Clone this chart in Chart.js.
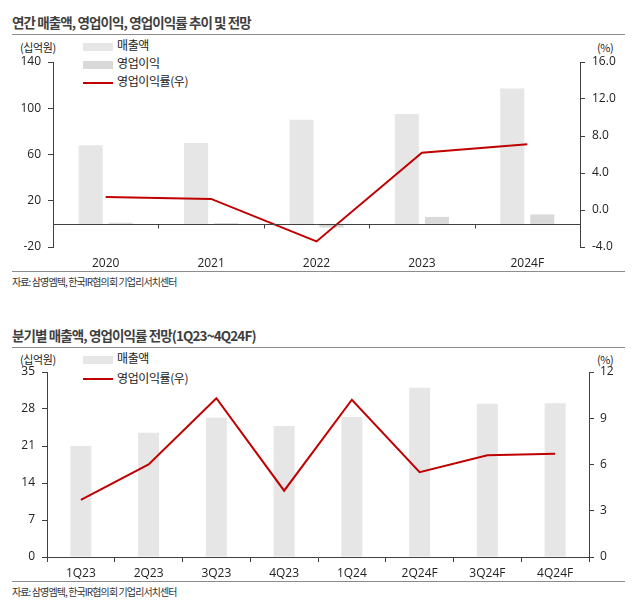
<!DOCTYPE html>
<html>
<head>
<meta charset="utf-8">
<script src="https://cdn.jsdelivr.net/npm/chart.js@4"></script>
<style>
  body { margin: 0; background: #fff; font-family: 'Noto Sans CJK KR', sans-serif; }
  #page { position: relative; width: 637px; height: 611px; overflow: hidden; }
  .title { position: absolute; left: 12px; font-size: 13.5px; font-weight: bold; color: #404040; letter-spacing: -0.9px; white-space: nowrap; }
  .rule { position: absolute; left: 12px; width: 613px; height: 0; border-top: 1.5px solid #8c8c8c; }
  .source { position: absolute; left: 12px; font-size: 10px; color: #333; letter-spacing: -0.9px; white-space: nowrap; }
  .unit { position: absolute; font-size: 11px; color: #222; letter-spacing: -0.4px; white-space: nowrap; }
  .legend { position: absolute; left: 83px; font-size: 12px; color: #222; letter-spacing: -0.4px; }
  .legend div { height: 18px; line-height: 18px; white-space: nowrap; }
  #legend2 div { height: 19.5px; line-height: 19.5px; }
  .legend span { display: inline-block; width: 30px; vertical-align: middle; margin-right: 4px; }
  canvas { position: absolute; left: 0; }
</style>
</head>
<body>
<div id="page">
  <div class="title" style="top:12px">연간 매출액, 영업이익, 영업이익률 추이 및 전망</div>
  <div class="rule" style="top:34px"></div>
  <div class="unit" style="left:20px; top:39px">(십억원)</div>
  <div class="unit" style="left:597px; top:39px">(%)</div>
  <div class="legend" id="legend1" style="top:36px"></div>
  <canvas id="annualChart" width="637" height="234" style="top:36px"></canvas>
  <div class="rule" style="top:271px"></div>
  <div class="source" style="top:274px">자료: 삼영엠텍, 한국IR협의회 기업리서치센터</div>

  <div class="title" style="top:325px">분기별 매출액, 영업이익률 전망(1Q23~4Q24F)</div>
  <div class="rule" style="top:347px"></div>
  <div class="unit" style="left:20px; top:351px">(십억원)</div>
  <div class="unit" style="left:597px; top:351px">(%)</div>
  <div class="legend" id="legend2" style="top:348px"></div>
  <canvas id="quarterChart" width="637" height="230" style="top:350px"></canvas>
  <div class="rule" style="top:581px"></div>
  <div class="source" style="top:584px">자료: 삼영엠텍, 한국IR협의회 기업리서치센터</div>
</div>

<script>
// annual data (십억원, %)
const years = ["2020", "2021", "2022", "2023", "2024F"];
const revenue = [68, 70, 90, 95, 117];
const opProfit = [1, 0.8, -3.1, 6, 8.2];
const opMargin = [1.4, 1.2, -3.4, 6.2, 7.1];

// quarterly data
const quarters = ["1Q23", "2Q23", "3Q23", "4Q23", "1Q24", "2Q24F", "3Q24F", "4Q24F"];
const qRevenue = [21.0, 23.5, 26.4, 24.8, 26.5, 32.0, 29.0, 29.1];
const qMargin = [3.7, 6.0, 10.3, 4.3, 10.2, 5.5, 6.6, 6.7];

const REV_COLOR = "#e6e6e6";
const OP_COLOR = "#d9d9d9";
const LINE_COLOR = "#c00000";
const AXIS_COLOR = "#404040";
const TICK_FONT = { family: "'Open Sans', 'Noto Sans CJK KR', sans-serif", size: 12 };

Chart.defaults.animation = false;
Chart.defaults.color = "#222";

function buildLegend(id, items) {
  const box = document.getElementById(id);
  items.forEach(it => {
    const row = document.createElement("div");
    const sw = document.createElement("span");
    sw.style.height = it.line ? "2px" : "8px";
    sw.style.background = it.color;
    row.appendChild(sw);
    row.appendChild(document.createTextNode(it.label));
    box.appendChild(row);
  });
}

function yAxis(side, min, max, step, width, pad, fmt) {
  return {
    position: side,
    min: min,
    max: max,
    ticks: {
      stepSize: step,
      padding: pad,
      font: TICK_FONT,
      color: "#222",
      callback: fmt || (v => v)
    },
    grid: { drawOnChartArea: false, color: AXIS_COLOR, tickLength: 5 },
    border: { color: AXIS_COLOR },
    afterFit: s => { s.width = width; }
  };
}

// zero line with category tick marks for annual chart
const zeroAxis = {
  id: "zeroAxis",
  afterDatasetsDraw(chart) {
    const x = chart.scales.x, y = chart.scales.y;
    const y0 = Math.round(y.getPixelForValue(0)) + 0.5;
    const ctx = chart.ctx;
    ctx.save();
    ctx.strokeStyle = AXIS_COLOR;
    ctx.lineWidth = 1;
    ctx.beginPath();
    ctx.moveTo(chart.chartArea.left, y0);
    ctx.lineTo(chart.chartArea.right, y0);
    for (let i = 1; i < years.length; i++) {
      const bx = Math.round((x.getPixelForValue(i - 1) + x.getPixelForValue(i)) / 2) + 0.5;
      ctx.moveTo(bx, y0);
      ctx.lineTo(bx, y0 + 4);
    }
    ctx.stroke();
    ctx.restore();
  }
};

buildLegend("legend1", [
  { label: "매출액", color: REV_COLOR },
  { label: "영업이익", color: OP_COLOR },
  { label: "영업이익률(우)", color: LINE_COLOR, line: true }
]);

new Chart(document.getElementById("annualChart"), {
  type: "bar",
  data: {
    labels: years,
    datasets: [
      {
        type: "line",
        label: "영업이익률(우)",
        data: opMargin,
        yAxisID: "y1",
        borderColor: LINE_COLOR,
        borderWidth: 2,
        pointRadius: 0,
        fill: false
      },
      {
        label: "매출액",
        data: revenue,
        backgroundColor: REV_COLOR,
        categoryPercentage: 0.57,
        barPercentage: 0.8
      },
      {
        label: "영업이익",
        data: opProfit,
        backgroundColor: OP_COLOR,
        categoryPercentage: 0.57,
        barPercentage: 0.8
      }
    ]
  },
  options: {
    responsive: false,
    layout: { padding: { top: 26, left: 0, right: 0, bottom: 0 } },
    plugins: { legend: { display: false }, tooltip: { enabled: false } },
    scales: {
      x: {
        grid: { display: false, drawTicks: false },
        border: { display: false },
        ticks: { font: TICK_FONT, color: "#222", padding: 9 },
        afterFit: s => { s.height = 23; }
      },
      y: yAxis("left", -20, 140, 40, 53, 7),
      y1: yAxis("right", -4, 16, 4, 57, 7, v => v.toFixed(1))
    }
  },
  plugins: [zeroAxis]
});

buildLegend("legend2", [
  { label: "매출액", color: REV_COLOR },
  { label: "영업이익률(우)", color: LINE_COLOR, line: true }
]);

new Chart(document.getElementById("quarterChart"), {
  type: "bar",
  data: {
    labels: quarters,
    datasets: [
      {
        type: "line",
        label: "영업이익률(우)",
        data: qMargin,
        yAxisID: "y1",
        borderColor: LINE_COLOR,
        borderWidth: 2,
        pointRadius: 0,
        fill: false
      },
      {
        label: "매출액",
        data: qRevenue,
        backgroundColor: REV_COLOR,
        categoryPercentage: 1,
        barPercentage: 0.31
      }
    ]
  },
  options: {
    responsive: false,
    layout: { padding: { top: 22, left: 0, right: 0, bottom: 0 } },
    plugins: { legend: { display: false }, tooltip: { enabled: false } },
    scales: {
      x: {
        grid: { drawOnChartArea: false, color: AXIS_COLOR, tickLength: 5, offset: true },
        border: { color: AXIS_COLOR },
        ticks: { font: TICK_FONT, color: "#222", padding: 4 },
        afterFit: s => { s.height = 23; }
      },
      y: yAxis("left", 0, 35, 7, 47, 7),
      y1: yAxis("right", 0, 12, 3, 48, 6)
    }
  }
});
</script>
</body>
</html>
